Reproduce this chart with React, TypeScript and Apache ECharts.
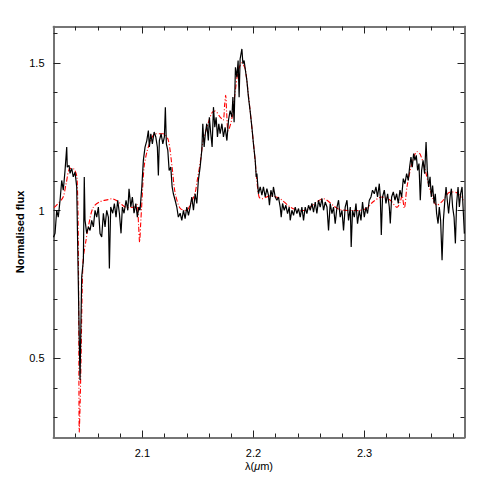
import React, { useEffect, useRef } from "react";
import * as echarts from "echarts";

// Observed spectrum (wavelength in micron, normalised flux)
const observedSpectrum: [number, number][] = [
  [2.0200, 0.910], [2.0214, 0.923], [2.0229, 1.001], [2.0243, 0.978], [2.0259, 1.035], [2.0274, 1.102],
  [2.0288, 1.069], [2.0304, 1.136], [2.0319, 1.215], [2.0324, 1.147], [2.0340, 1.153], [2.0349, 1.126],
  [2.0364, 1.143], [2.0378, 1.114], [2.0394, 1.130], [2.0409, 1.080], [2.0423, 0.765], [2.0432, 0.562],
  [2.0439, 0.427], [2.0446, 0.596], [2.0454, 0.776], [2.0469, 0.832], [2.0477, 1.114], [2.0484, 0.967],
  [2.0499, 0.923], [2.0514, 0.945], [2.0529, 0.933], [2.0544, 0.967], [2.0559, 0.945], [2.0574, 1.001],
  [2.0589, 0.978], [2.0604, 1.012], [2.0619, 0.922], [2.0634, 0.911], [2.0649, 0.991], [2.0664, 0.945],
  [2.0679, 1.001], [2.0694, 0.978], [2.0703, 0.804], [2.0715, 1.012], [2.0733, 0.991], [2.0748, 1.024],
  [2.0763, 0.978], [2.0778, 1.035], [2.0793, 0.991], [2.0808, 0.923], [2.0820, 1.012], [2.0835, 0.991],
  [2.0853, 1.035], [2.0869, 1.001], [2.0880, 1.074], [2.0896, 1.012], [2.0910, 1.046], [2.0925, 0.991],
  [2.0941, 1.024], [2.0955, 0.978], [2.0968, 1.012], [2.0979, 1.001], [2.0995, 1.080], [2.1009, 1.170],
  [2.1024, 1.215], [2.1040, 1.237], [2.1054, 1.271], [2.1063, 1.215], [2.1076, 1.260], [2.1090, 1.226],
  [2.1106, 1.266], [2.1121, 1.249], [2.1135, 1.215], [2.1144, 1.119], [2.1153, 1.237], [2.1169, 1.260],
  [2.1184, 1.226], [2.1198, 1.249], [2.1207, 1.350], [2.1216, 1.226], [2.1229, 1.204], [2.1241, 1.136],
  [2.1256, 1.147], [2.1268, 1.080], [2.1279, 1.057], [2.1295, 1.035], [2.1310, 1.012], [2.1324, 0.978],
  [2.1340, 0.991], [2.1355, 0.967], [2.1370, 1.001], [2.1385, 0.973], [2.1400, 1.012], [2.1415, 0.984],
  [2.1430, 1.012], [2.1445, 1.046], [2.1460, 1.001], [2.1475, 1.057], [2.1490, 1.024], [2.1504, 1.102],
  [2.1520, 1.147], [2.1535, 1.204], [2.1544, 1.294], [2.1556, 1.215], [2.1567, 1.260], [2.1580, 1.294],
  [2.1594, 1.237], [2.1603, 1.316], [2.1616, 1.260], [2.1628, 1.215], [2.1640, 1.350], [2.1652, 1.282],
  [2.1664, 1.316], [2.1676, 1.249], [2.1688, 1.294], [2.1700, 1.260], [2.1716, 1.294], [2.1730, 1.249],
  [2.1745, 1.282], [2.1761, 1.237], [2.1775, 1.305], [2.1790, 1.338], [2.1806, 1.316], [2.1815, 1.384],
  [2.1826, 1.299], [2.1838, 1.485], [2.1851, 1.451], [2.1862, 1.508], [2.1871, 1.384], [2.1880, 1.513],
  [2.1896, 1.547], [2.1905, 1.497], [2.1916, 1.508], [2.1928, 1.474], [2.1941, 1.440], [2.1955, 1.384],
  [2.1970, 1.338], [2.1986, 1.282], [2.2000, 1.226], [2.2016, 1.170], [2.2025, 1.114], [2.2031, 1.125],
  [2.2045, 1.057], [2.2061, 1.080], [2.2076, 1.052], [2.2090, 1.080], [2.2106, 1.046], [2.2121, 1.074],
  [2.2135, 1.052], [2.2144, 1.018], [2.2157, 1.069], [2.2171, 1.046], [2.2180, 1.080], [2.2196, 1.046],
  [2.2211, 1.035], [2.2225, 1.046], [2.2241, 1.012], [2.2250, 0.978], [2.2262, 1.024], [2.2277, 1.001],
  [2.2292, 1.018], [2.2307, 0.990], [2.2322, 1.012], [2.2331, 0.967], [2.2346, 1.001], [2.2361, 0.984],
  [2.2376, 1.012], [2.2391, 0.990], [2.2406, 1.007], [2.2421, 0.978], [2.2436, 1.012], [2.2451, 0.967],
  [2.2466, 1.012], [2.2481, 0.990], [2.2496, 1.018], [2.2511, 1.001], [2.2526, 1.024], [2.2541, 0.995],
  [2.2556, 1.029], [2.2571, 0.990], [2.2586, 1.035], [2.2601, 1.012], [2.2617, 1.041], [2.2631, 1.001],
  [2.2646, 1.029], [2.2662, 1.012], [2.2676, 0.933], [2.2691, 1.024], [2.2707, 0.990], [2.2721, 1.012],
  [2.2736, 0.956], [2.2752, 1.012], [2.2766, 1.035], [2.2781, 0.978], [2.2797, 1.001], [2.2811, 0.933],
  [2.2826, 1.012], [2.2842, 1.035], [2.2856, 0.967], [2.2872, 1.012], [2.2880, 0.877], [2.2892, 1.001],
  [2.2908, 0.978], [2.2923, 1.024], [2.2937, 0.956], [2.2953, 1.001], [2.2968, 0.967], [2.2982, 1.029],
  [2.2998, 0.978], [2.3013, 1.012], [2.3027, 0.990], [2.3043, 1.035], [2.3058, 1.046], [2.3072, 1.069],
  [2.3088, 1.057], [2.3103, 1.080], [2.3117, 1.046], [2.3133, 1.091], [2.3142, 1.046], [2.3151, 0.917],
  [2.3162, 1.046], [2.3178, 1.069], [2.3193, 1.024], [2.3208, 1.057], [2.3223, 1.012], [2.3232, 0.956],
  [2.3244, 1.046], [2.3259, 1.063], [2.3274, 1.035], [2.3289, 1.057], [2.3304, 1.024], [2.3319, 1.069],
  [2.3334, 1.046], [2.3349, 1.108], [2.3364, 1.091], [2.3379, 1.125], [2.3394, 1.102], [2.3406, 1.147],
  [2.3418, 1.181], [2.3430, 1.147], [2.3442, 1.193], [2.3454, 1.170], [2.3466, 1.187], [2.3478, 1.136],
  [2.3490, 1.159], [2.3502, 1.035], [2.3514, 1.136], [2.3527, 1.170], [2.3541, 1.125], [2.3554, 1.232],
  [2.3565, 1.136], [2.3577, 1.080], [2.3590, 1.114], [2.3601, 1.046], [2.3613, 1.085], [2.3626, 1.024],
  [2.3637, 1.057], [2.3649, 0.990], [2.3662, 0.956], [2.3673, 1.012], [2.3685, 0.967], [2.3698, 0.832],
  [2.3710, 0.967], [2.3721, 1.024], [2.3734, 1.080], [2.3745, 1.035], [2.3757, 0.990], [2.3770, 1.046],
  [2.3782, 1.074], [2.3793, 1.012], [2.3806, 0.978], [2.3818, 0.889], [2.3829, 1.024], [2.3842, 1.080],
  [2.3854, 1.012], [2.3865, 1.057], [2.3878, 1.080], [2.3887, 1.012], [2.3899, 0.922],
];

// Model spectrum (red dash-dot)
const modelSpectrum: [number, number][] = [
  [2.0205, 1.010], [2.0232, 1.020], [2.0286, 1.045], [2.0313, 1.090], [2.0349, 1.143], [2.0385, 1.140],
  [2.0412, 1.110], [2.0425, 0.800], [2.0432, 0.250], [2.0440, 0.350], [2.0448, 0.500], [2.0466, 0.830],
  [2.0493, 0.900], [2.0511, 0.940], [2.0556, 1.010], [2.0619, 1.030], [2.0691, 1.037], [2.0727, 1.040],
  [2.0763, 1.035], [2.0799, 1.025], [2.0862, 1.010], [2.0934, 1.012], [2.0952, 1.020], [2.0966, 0.950],
  [2.0975, 0.893], [2.0984, 0.950], [2.0993, 1.010], [2.1015, 1.146], [2.1042, 1.200], [2.1078, 1.240],
  [2.1114, 1.260], [2.1186, 1.260], [2.1232, 1.240], [2.1268, 1.146], [2.1295, 1.060], [2.1340, 1.008],
  [2.1394, 1.000], [2.1448, 1.035], [2.1475, 1.060], [2.1493, 1.100], [2.1520, 1.160], [2.1547, 1.236],
  [2.1580, 1.280], [2.1625, 1.330], [2.1655, 1.337], [2.1700, 1.316], [2.1727, 1.306], [2.1741, 1.360],
  [2.1750, 1.390], [2.1759, 1.330], [2.1772, 1.270], [2.1805, 1.310], [2.1835, 1.400], [2.1862, 1.470],
  [2.1895, 1.500], [2.1925, 1.480], [2.1952, 1.400], [2.1986, 1.280], [2.2015, 1.170], [2.2031, 1.100],
  [2.2051, 1.046], [2.2076, 1.040], [2.2150, 1.050], [2.2240, 1.040], [2.2331, 1.012], [2.2421, 1.000],
  [2.2481, 1.003], [2.2571, 1.030], [2.2628, 1.040], [2.2736, 1.012], [2.2781, 1.003], [2.2932, 1.000],
  [2.3022, 1.008], [2.3078, 1.030], [2.3157, 1.046], [2.3232, 1.035], [2.3292, 1.011], [2.3322, 1.030],
  [2.3337, 1.052], [2.3358, 1.008], [2.3382, 1.080], [2.3427, 1.160], [2.3472, 1.200], [2.3502, 1.190],
  [2.3547, 1.136], [2.3592, 1.068], [2.3652, 1.018], [2.3697, 1.030], [2.3772, 1.063], [2.3832, 1.060],
  [2.3889, 1.035],
];

const xMajorTicks = [2.1, 2.2, 2.3];
const xMinorTicks = [2.04, 2.06, 2.08, 2.12, 2.14, 2.16, 2.18, 2.22, 2.24, 2.26, 2.28, 2.32, 2.34, 2.36, 2.38];
const yMajorTicks = [0.5, 1, 1.5];
const yMinorTicks = [0.3, 0.4, 0.6, 0.7, 0.8, 0.9, 1.1, 1.2, 1.3, 1.4, 1.6];

const X_MIN = 2.02;
const X_MAX = 2.39;
const Y_MIN = 0.232;
const Y_MAX = 1.623;

const AXIS_COLOR = "#6e6e6e";
const TICK_COLOR = "#222";
const FONT = "'Liberation Sans', Arial, sans-serif";

function makeAxis(
  kind: "x" | "y",
  position: string,
  ticks: number[],
  len: number,
  showLabel: boolean,
  extra: any = {}
) {
  return {
    type: "value",
    position,
    min: kind === "x" ? X_MIN : Y_MIN,
    max: kind === "x" ? X_MAX : Y_MAX,
    axisLine: { show: true, onZero: false, lineStyle: { color: AXIS_COLOR, width: 1.6 } },
    axisTick: {
      show: true,
      inside: true,
      length: len,
      customValues: ticks,
      lineStyle: { color: TICK_COLOR, width: 1 },
    },
    axisLabel: {
      show: showLabel,
      customValues: ticks,
      formatter: (v: number) => String(v),
      color: "#000",
      fontFamily: FONT,
      fontSize: 11,
      margin: kind === "x" ? 10 : 9,
    },
    splitLine: { show: false },
    ...extra,
  };
}

export default function App() {
  const ref = useRef<HTMLDivElement>(null);
  useEffect(() => {
    if (!ref.current) return;
    const chart = echarts.init(ref.current, undefined, { renderer: "svg" });
    chart.setOption({
      animation: false,
      backgroundColor: "#fff",
      grid: { left: 53.5, right: 26.5, top: 26.5, bottom: 53.5, containLabel: false },
      xAxis: [
        makeAxis("x", "bottom", xMajorTicks, 7, true, {
          name: "λ({i|μ}m)",
          nameLocation: "middle",
          nameGap: 23,
          nameMoveOverlap: false,
          nameTextStyle: {
            color: "#000",
            fontFamily: FONT,
            fontSize: 11,
            rich: { i: { fontStyle: "italic", fontFamily: FONT, fontSize: 11, color: "#000" } },
          },
        }),
        makeAxis("x", "bottom", xMinorTicks, 4, false),
        makeAxis("x", "top", xMajorTicks, 7, false),
        makeAxis("x", "top", xMinorTicks, 4, false),
      ],
      yAxis: [
        makeAxis("y", "left", yMajorTicks, 7, true, {
          name: "Normalised flux",
          nameLocation: "middle",
          nameGap: 28,
          nameRotate: 90,
          nameMoveOverlap: false,
          nameTextStyle: { color: "#000", fontFamily: FONT, fontSize: 11, fontWeight: "bold" },
        }),
        makeAxis("y", "left", yMinorTicks, 4, false),
        makeAxis("y", "right", yMajorTicks, 7, false),
        makeAxis("y", "right", yMinorTicks, 4, false),
      ],
      series: [
        {
          name: "model",
          type: "line",
          xAxisIndex: 0,
          yAxisIndex: 0,
          data: modelSpectrum,
          showSymbol: false,
          smooth: 0.3,
          lineStyle: { color: "#ff0000", width: 1.1, type: [5, 2, 1, 2] },
          z: 2,
        },
        {
          name: "observed",
          type: "line",
          xAxisIndex: 0,
          yAxisIndex: 0,
          data: observedSpectrum,
          showSymbol: false,
          lineStyle: { color: "#000", width: 1.2 },
          z: 3,
        },
      ],
    });
    return () => chart.dispose();
  }, []);
  return (
    <div
      ref={ref}
      style={{ position: "fixed", left: 0, top: 0, width: 491, height: 491, background: "#fff" }}
    />
  );
}
